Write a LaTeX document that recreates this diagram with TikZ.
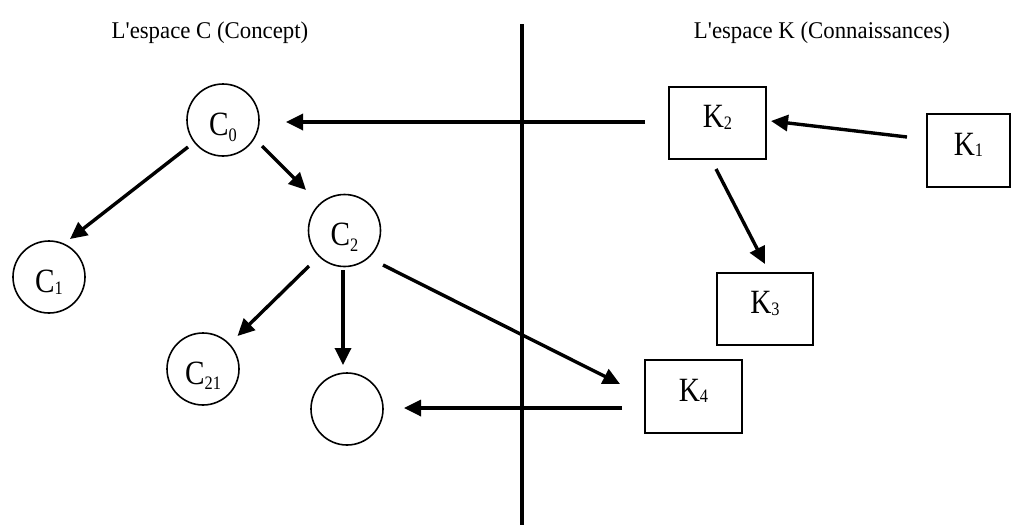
\documentclass[tikz,border=0pt]{standalone}
\usepackage{fontspec}
\setmainfont{Liberation Serif}
\usetikzlibrary{arrows.meta,calc}
\newcommand{\lbl}[3]{\scalebox{0.86}[1]{#1\raisebox{-#3}{\fontsize{19}{20}\selectfont #2}}}
\begin{document}
\begin{tikzpicture}[x=1pt,y=-1pt,
  arr/.style={line width=3.4pt,-{Triangle[length=17pt,width=16pt]}},
  cnode/.style={circle,draw,line width=1.6pt,minimum size=72pt,inner sep=0pt,
    text height=30pt,text depth=0pt,font=\fontsize{34}{36}\selectfont},
  knode/.style={rectangle,draw,line width=1.6pt,inner sep=0pt,
    text height=12pt,text depth=3pt,font=\fontsize{34}{36}\selectfont},
  title/.style={font=\fontsize{24}{28}\selectfont,inner sep=0pt}]
\useasboundingbox (0,0) rectangle (1011,525);
% titles
\node[title] (tC) at (210,33) {\scalebox{0.95}[1]{L\textquotesingle espace C (Concept)}};
\node[title] (tK) at (822,33) {\scalebox{0.95}[1]{L\textquotesingle espace K (Connaissances)}};
% separator
\coordinate (vtop) at (522,24);
\coordinate (vbot) at (522,525);
\draw[line width=4pt] (vtop) -- (vbot);
% concept nodes
\node[cnode] (C0) at (223,120) {\lbl{C}{0}{6pt}};
\node[cnode] (C1) at (49,277) {\lbl{C}{1}{2pt}};
\node[cnode] (C2) at (344.5,230.5) {\lbl{C}{2}{6pt}};
\node[cnode] (C21) at (203,369) {\lbl{C}{21}{5pt}};
\node[cnode] (E) at (347,409) {};
% knowledge nodes
\node[knode,minimum width=97pt,minimum height=72pt] (K2) at (717.5,123) {\lbl{K}{2}{1.5pt}};
\node[knode,minimum width=83pt,minimum height=73pt] (K1) at (968.5,150.5) {\lbl{K}{1}{1.5pt}};
\node[knode,minimum width=96pt,minimum height=72pt] (K3) at (765,309) {\lbl{K}{3}{1.5pt}};
\node[knode,minimum width=97pt,minimum height=73pt] (K4) at (693.5,396.5) {\lbl{K}{4}{1.5pt}};
% connectors
\draw[arr] ($(K2)+(-72.5,-1)$) -- ($(C0)+(63,2)$);
\draw[arr] ($(K1)+(-61.5,-13.5)$) -- ($(K2)+(53.5,-2)$);
\draw[arr] ($(K2)+(-1.5,46)$) -- ($(K3)+(0,-45)$);
\draw[arr] ($(C0)+(-35,27)$) -- ($(C1)+(21,-38)$);
\draw[arr] ($(C0)+(39,26)$) -- ($(C2)+(-38.5,-40.5)$);
\draw[arr] ($(C2)+(-35.5,35.5)$) -- ($(C21)+(34.5,-33)$);
\draw[arr] ($(C2)+(-1.5,39.5)$) -- ($(E)+(-4,-44)$);
\draw[arr] ($(C2)+(38.5,34.5)$) -- ($(K4)+(-73.5,-12.5)$);
\draw[arr] ($(K4)+(-71.5,11.5)$) -- ($(E)+(57,-1)$);
\end{tikzpicture}
\end{document}
